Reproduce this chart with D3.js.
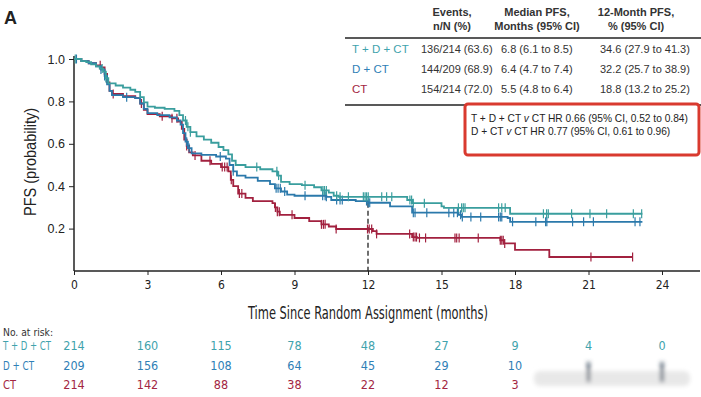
<!DOCTYPE html>
<html>
<head>
<meta charset="utf-8">
<script src="https://cdn.jsdelivr.net/npm/d3@7.9.0/dist/d3.min.js"></script>
<style>
  html, body { margin: 0; padding: 0; background: #fff; }
  svg { display: block; font-family: "Liberation Sans", Arial, sans-serif; }
</style>
</head>
<body>
<div id="chart"></div>
<script>
// KM step points (time in months, PFS probability)
const tdctT = [0, 0.3, 0.5, 0.7, 0.9, 1.05, 1.2, 1.3, 1.4, 1.7, 2.0, 2.3, 2.5, 2.7, 2.85, 3.0, 3.3, 3.7, 4.1, 4.3, 4.45, 4.6, 4.75, 5.0, 5.3, 5.6, 5.9, 6.1, 6.3, 6.45, 6.6, 7.0, 7.6, 8.1, 8.3, 8.45, 8.8, 9.3, 9.8, 10.1, 10.4, 10.6, 10.8, 13.6, 13.8, 15.0, 15.1, 17.8, 23.2];
const tdctS = [1, 0.99, 0.985, 0.975, 0.965, 0.955, 0.94, 0.91, 0.885, 0.875, 0.865, 0.855, 0.845, 0.82, 0.795, 0.775, 0.77, 0.765, 0.755, 0.735, 0.71, 0.68, 0.655, 0.635, 0.62, 0.605, 0.585, 0.57, 0.55, 0.52, 0.5, 0.49, 0.48, 0.47, 0.45, 0.42, 0.41, 0.405, 0.395, 0.38, 0.37, 0.355, 0.35, 0.335, 0.32, 0.305, 0.298, 0.27, 0.27];
const tdctCens = [0.05, 1.15, 1.3, 4.55, 4.65, 4.75, 7.46, 8.28, 8.35, 9.43, 10.16, 10.22, 10.3, 10.72, 10.86, 11.2, 11.81, 11.88, 11.94, 12.01, 12.56, 12.76, 12.97, 13.71, 13.78, 13.85, 14.3, 15.69, 15.82, 15.89, 15.96, 17.33, 17.46, 17.6, 19.16, 19.29, 19.36, 20.31, 21.06, 21.74, 22.83, 23.17];

const dctT = [0, 0.3, 0.6, 0.9, 1.1, 1.25, 1.35, 1.45, 1.55, 2.0, 2.5, 2.7, 2.85, 3.0, 3.4, 3.9, 4.2, 4.35, 4.45, 4.55, 4.65, 4.8, 5.2, 5.8, 6.2, 6.35, 6.5, 6.65, 7.0, 7.5, 8.0, 8.2, 8.45, 8.7, 9.0, 10.3, 10.5, 11.5, 12.0, 12.9, 13.8, 15.7, 15.8, 17.7, 17.8, 23.2];
const dctS = [1, 0.99, 0.98, 0.965, 0.95, 0.92, 0.88, 0.85, 0.83, 0.82, 0.815, 0.79, 0.765, 0.745, 0.735, 0.725, 0.71, 0.69, 0.65, 0.61, 0.58, 0.555, 0.548, 0.54, 0.53, 0.5, 0.47, 0.45, 0.44, 0.425, 0.41, 0.39, 0.375, 0.36, 0.355, 0.35, 0.335, 0.33, 0.322, 0.305, 0.275, 0.265, 0.255, 0.25, 0.232, 0.232];
const dctCens = [0.1, 1.1, 1.25, 2.15, 4.6, 4.7, 5.97, 6.5, 8.25, 8.33, 8.42, 8.6, 9.43, 10.15, 10.25, 10.3, 10.72, 10.86, 10.95, 11.94, 12.01, 12.07, 13.85, 13.92, 14.4, 15.3, 15.5, 15.65, 15.78, 15.85, 16.2, 16.6, 17.33, 17.4, 17.46, 17.9, 18.85, 19.25, 19.3, 20.35, 20.8, 21.2, 22.9, 23.1];

const ctT = [0, 0.3, 0.6, 0.9, 1.1, 1.25, 1.35, 1.45, 1.55, 2.0, 2.5, 2.7, 2.85, 3.0, 3.5, 4.0, 4.25, 4.4, 4.5, 4.6, 4.7, 4.85, 5.2, 5.6, 6.0, 6.3, 6.4, 6.5, 6.7, 7.0, 7.3, 8.1, 8.2, 8.3, 8.4, 9.0, 9.6, 10.1, 10.4, 10.7, 12.2, 12.35, 13.8, 14.0, 17.4, 17.55, 18.0, 19.4, 22.8];
const ctS = [1, 0.99, 0.98, 0.97, 0.96, 0.93, 0.89, 0.85, 0.835, 0.825, 0.815, 0.79, 0.76, 0.74, 0.73, 0.72, 0.705, 0.67, 0.62, 0.59, 0.56, 0.545, 0.52, 0.505, 0.49, 0.47, 0.43, 0.4, 0.365, 0.345, 0.33, 0.32, 0.3, 0.28, 0.265, 0.25, 0.235, 0.22, 0.21, 0.198, 0.188, 0.175, 0.16, 0.156, 0.145, 0.13, 0.1, 0.066, 0.066];
const ctCens = [1.07, 1.6, 2.75, 3.6, 4.0, 4.2, 4.6, 4.94, 5.55, 6.05, 6.15, 6.25, 6.42, 6.75, 6.85, 8.22, 8.3, 8.38, 8.9, 10.1, 10.18, 10.25, 10.7, 11.98, 12.05, 12.15, 12.35, 13.7, 13.85, 13.92, 13.98, 14.1, 14.35, 15.55, 15.62, 15.72, 16.5, 17.4, 17.46, 17.52, 17.58, 21.1, 22.8];

const xTicks = [0, 3, 6, 9, 12, 15, 18, 21, 24];
const yTicks = [0.2, 0.4, 0.6, 0.8, 1.0];

const armLabels = ["T + D + CT", "D + CT", "CT"];
const armColors = ["#3a9e9e", "#2b79ab", "#a2213f"];
const textColors = ["#3fa3ad", "#2f80b6", "#a32642"];
const events = ["136/214 (63.6)", "144/209 (68.9)", "154/214 (72.0)"];
const medians = ["6.8 (6.1 to 8.5)", "6.4 (4.7 to 7.4)", "5.5 (4.8 to 6.4)"];
const pfs12 = ["34.6 (27.9 to 41.3)", "32.2 (25.7 to 38.9)", "18.8 (13.2 to 25.2)"];
const hrLines = [
  ["T + D + CT ", "v", " CT HR 0.66 (95% CI, 0.52 to 0.84)"],
  ["D + CT ", "v", " CT HR 0.77 (95% CI, 0.61 to 0.96)"]
];

const riskTimes = [0, 3, 6, 9, 12, 15, 18, 21, 24];
const riskTDCT = [214, 160, 115, 78, 48, 27, 9, 4, 0];
const riskDCT = [209, 156, 108, 64, 45, 29, 10];
const riskCT = [214, 142, 88, 38, 22, 12, 3];

const width = 701;
const height = 397;
const narrow = '"Liberation Sans Narrow", "DejaVu Sans Condensed", "Roboto Condensed", sans-serif';

const svg = d3.select("#chart").append("svg")
  .attr("width", width)
  .attr("height", height);

svg.append("rect").attr("width", width).attr("height", height).attr("fill", "#fff");

const defs = svg.append("defs");
defs.append("filter").attr("id", "blur")
  .attr("x", "-20%").attr("y", "-50%").attr("width", "140%").attr("height", "200%")
  .append("feGaussianBlur").attr("stdDeviation", 2.2);

const x = d3.scaleLinear().domain([0, 24]).range([74, 662]);
const y = d3.scaleLinear().domain([0, 1]).range([271, 59]);

// panel letter
svg.append("text").attr("x", 4).attr("y", 24)
  .attr("font-size", 18).attr("font-weight", "bold").attr("fill", "#222")
  .text("A");

// axes
const xAxis = svg.append("g")
  .attr("transform", `translate(0,${y(0)})`)
  .call(d3.axisBottom(x).tickValues(xTicks).tickSize(4).tickSizeOuter(0).tickPadding(5));
xAxis.select(".domain").remove();
xAxis.selectAll("text").attr("font-size", 12).attr("fill", "#222").attr("font-family", narrow);
xAxis.selectAll("line").attr("stroke", "#222");
svg.append("line")
  .attr("x1", x(0)).attr("x2", 700)
  .attr("y1", y(0)).attr("y2", y(0))
  .attr("stroke", "#222").attr("stroke-width", 1.5);

const yAxis = svg.append("g")
  .attr("transform", `translate(${x(0)},0)`)
  .call(d3.axisLeft(y).tickValues(yTicks).tickFormat(d3.format(".1f")).tickSize(5).tickSizeOuter(0).tickPadding(4));
yAxis.select(".domain").remove();
yAxis.selectAll("text").attr("font-size", 12.5).attr("fill", "#222");
yAxis.selectAll("line").attr("stroke", "#222");
svg.append("line")
  .attr("x1", x(0)).attr("x2", x(0))
  .attr("y1", y(0)).attr("y2", y(1) - 3)
  .attr("stroke", "#222").attr("stroke-width", 1.5);

// axis titles
svg.append("text")
  .attr("x", 368).attr("y", 319)
  .attr("text-anchor", "middle")
  .attr("font-family", narrow).attr("font-size", 17).attr("fill", "#222")
  .attr("textLength", 240).attr("lengthAdjust", "spacingAndGlyphs")
  .text("Time Since Random Assignment (months)");

svg.append("text")
  .attr("transform", "translate(36,162) rotate(-90)")
  .attr("text-anchor", "middle")
  .attr("font-size", 16).attr("fill", "#222")
  .attr("textLength", 108).attr("lengthAdjust", "spacingAndGlyphs")
  .text("PFS (probability)");

// dashed 12-month line
const survAt = (times, surv, t) => surv[Math.max(0, d3.bisectRight(times, t) - 1)];
svg.append("line")
  .attr("x1", x(12)).attr("x2", x(12))
  .attr("y1", y(survAt(dctT, dctS, 12))).attr("y2", y(0))
  .attr("stroke", "#222").attr("stroke-width", 1.3)
  .attr("stroke-dasharray", "5,3");

// curves, CT first so the others sit on top
const arms = [
  { t: ctT, s: ctS, cens: ctCens, color: armColors[2] },
  { t: dctT, s: dctS, cens: dctCens, color: armColors[1] },
  { t: tdctT, s: tdctS, cens: tdctCens, color: armColors[0] }
];

const line = d3.line()
  .x(d => x(d[0]))
  .y(d => y(d[1]))
  .curve(d3.curveStepAfter);

arms.forEach(arm => {
  svg.append("path")
    .datum(d3.zip(arm.t, arm.s))
    .attr("fill", "none")
    .attr("stroke", arm.color)
    .attr("stroke-width", 1.8)
    .attr("d", line);

  svg.append("g").selectAll("line")
    .data(arm.cens)
    .join("line")
    .attr("x1", d => x(d)).attr("x2", d => x(d))
    .attr("y1", d => y(survAt(arm.t, arm.s, d)) - 4.5)
    .attr("y2", d => y(survAt(arm.t, arm.s, d)) + 4.5)
    .attr("stroke", arm.color)
    .attr("stroke-width", 1.2);
});

// summary table
const headX = [452, 537, 636];
const heads = [["Events,", "n/N (%)"], ["Median PFS,", "Months (95% CI)"], ["12-Month PFS,", "% (95% CI)"]];
heads.forEach((h, i) => {
  h.forEach((s, j) => {
    svg.append("text")
      .attr("x", headX[i]).attr("y", 16 + j * 14)
      .attr("text-anchor", "middle")
      .attr("font-size", 11).attr("font-weight", "bold").attr("fill", "#333")
      .text(s);
  });
});
svg.append("line").attr("x1", 345).attr("x2", 701).attr("y1", 38).attr("y2", 38)
  .attr("stroke", "#222").attr("stroke-width", 1.5);
svg.append("line").attr("x1", 345).attr("x2", 701).attr("y1", 105).attr("y2", 105)
  .attr("stroke", "#222").attr("stroke-width", 1.5);

armLabels.forEach((lab, i) => {
  const yy = 53 + i * 20;
  svg.append("text").attr("x", 352).attr("y", yy)
    .attr("font-size", 11.5).attr("fill", textColors[i]).text(lab);
  svg.append("text").attr("x", 421).attr("y", yy)
    .attr("font-size", 11).attr("fill", "#333").text(events[i]);
  svg.append("text").attr("x", 501).attr("y", yy)
    .attr("font-size", 11).attr("fill", "#333").text(medians[i]);
  svg.append("text").attr("x", 600).attr("y", yy)
    .attr("font-size", 11).attr("fill", "#333").text(pfs12[i]);
});

// hazard ratio box
svg.append("rect")
  .attr("x", 465).attr("y", 104).attr("width", 234).attr("height", 51)
  .attr("rx", 3)
  .attr("fill", "#fff").attr("stroke", "#d93a2f").attr("stroke-width", 3);

hrLines.forEach((parts, i) => {
  const t = svg.append("text").attr("x", 471).attr("y", 122 + i * 13)
    .attr("font-size", 10.2).attr("fill", "#222");
  t.append("tspan").text(parts[0]);
  t.append("tspan").attr("font-style", "italic").text(parts[1]);
  t.append("tspan").text(parts[2]);
});

// number at risk
svg.append("text").attr("x", 3).attr("y", 336)
  .attr("font-family", narrow).attr("font-size", 11).attr("fill", "#333")
  .attr("textLength", 50).attr("lengthAdjust", "spacingAndGlyphs")
  .text("No. at risk:");

const labelWidths = [48, 31, 13];
const riskRows = [riskTDCT, riskDCT, riskCT];
riskRows.forEach((row, i) => {
  const yy = 350 + i * 19.5;
  svg.append("text").attr("x", 3).attr("y", yy)
    .attr("font-family", narrow).attr("font-size", 12).attr("fill", textColors[i])
    .attr("textLength", labelWidths[i]).attr("lengthAdjust", "spacingAndGlyphs")
    .text(armLabels[i]);
  svg.append("g").selectAll("text")
    .data(row)
    .join("text")
    .attr("x", (d, j) => x(riskTimes[j]))
    .attr("y", yy)
    .attr("text-anchor", "middle")
    .attr("font-family", narrow).attr("font-size", 12.5).attr("fill", textColors[i])
    .text(d => d);
});

// blurred smudge covering the last at-risk cells
const smudge = svg.append("g").attr("filter", "url(#blur)");
smudge.append("rect")
  .attr("x", 534).attr("y", 371).attr("width", 156).attr("height", 15).attr("rx", 6)
  .attr("fill", "#e8e8e8");
smudge.selectAll("rect.bar")
  .data([21, 24])
  .join("rect")
  .attr("class", "bar")
  .attr("x", d => x(d) - 1.5).attr("y", 362).attr("width", 3).attr("height", 20)
  .attr("fill", "#445566");
</script>
</body>
</html>
